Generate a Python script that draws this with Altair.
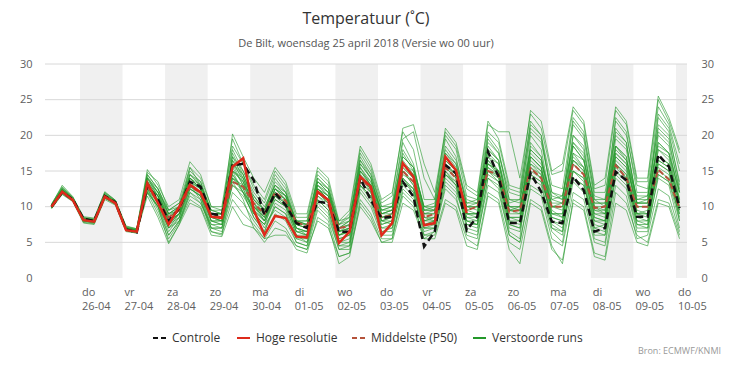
import altair as alt
import pandas as pd

# ---------------- data ----------------
# 6-hourly forecast steps, hours since Wed 25-04-2018 00:00 (first step 08:00)
step_hours = list(range(8, 8 + 6 * 60, 6))

day_names = ["do", "vr", "za", "zo", "ma", "di", "wo", "do", "vr", "za", "zo", "ma", "di", "wo", "do"]
day_dates = ["26-04", "27-04", "28-04", "29-04", "30-04", "01-05", "02-05", "03-05",
             "04-05", "05-05", "06-05", "07-05", "08-05", "09-05", "10-05"]
day_hours = [24 * (i + 1) for i in range(len(day_names))]

y_ticks = [0, 5, 10, 15, 20, 25, 30]

controle = [10.0, 12.0, 11.0, 8.3, 8.0, 11.5, 10.6, 6.8, 6.4,
            13.0, 11.0, 8.0, 9.8,
            13.5, 12.8, 9.0, 8.8,
            15.8, 16.0, 13.7, 8.8,
            11.9, 10.2, 7.7, 7.0,
            10.7, 10.5, 6.5, 6.5,
            14.0, 10.9, 8.4, 8.6,
            13.5, 11.4, 4.4, 6.5,
            15.8, 14.7, 6.7, 8.6,
            17.7, 14.2, 7.7, 7.7,
            14.7, 12.1, 7.9, 7.7,
            14.2, 12.3, 6.5, 7.0,
            14.9, 13.7, 8.6, 8.6,
            17.3, 15.6, 9.8]

hoge_resolutie = [10.0, 12.1, 10.9, 8.1, 7.9, 11.4, 10.5, 6.7, 6.5,
                  13.3, 10.5, 7.5, 10.0,
                  13.1, 12.0, 8.6, 8.4,
                  15.6, 16.8, 9.5, 6.0,
                  8.7, 8.4, 5.8, 5.7,
                  12.1, 10.9, 4.9, 6.5,
                  14.2, 12.8, 6.0, 7.7,
                  16.1, 14.2, 7.4, 7.7,
                  17.0, 15.1, 9.1]

middelste = [10.0, 12.1, 11.0, 8.2, 8.0, 11.4, 10.5, 6.8, 6.5,
             12.8, 10.8, 8.5, 9.5,
             12.8, 12.0, 8.8, 8.5,
             13.5, 12.8, 10.5, 9.0,
             12.0, 10.8, 7.8, 7.3,
             12.0, 11.0, 7.0, 7.3,
             14.0, 12.5, 8.5, 8.8,
             15.0, 13.5, 8.5, 9.0,
             15.5, 14.0, 9.5, 10.0,
             15.0, 14.5, 9.3, 9.5,
             15.4, 14.0, 10.0, 10.0,
             16.0, 14.5, 9.8, 10.0,
             15.8, 14.0, 10.0, 10.0,
             15.2, 13.8, 9.8]

verstoorde_runs = [
    [9.8, 11.8, 10.8, 7.8, 7.6, 11.2, 10.4, 6.8, 6.5,
     12.0, 9.0, 5.5, 7.8, 11.0, 10.0, 6.5, 6.2, 11.0, 9.0, 7.5, 5.5, 8.0, 7.0, 4.5, 4.0,
     9.5, 8.0, 3.0, 3.5, 11.0, 9.0, 5.5, 5.5, 11.5, 10.0, 6.0, 6.0, 11.0, 10.0, 5.5, 4.5,
     12.0, 11.0, 5.0, 4.0, 11.0, 10.0, 4.5, 2.0, 11.0, 10.0, 3.5, 3.0, 12.0, 10.5, 6.0, 5.0,
     11.0, 10.5, 6.0],
    [10.3, 13.0, 11.4, 8.6, 8.4, 12.0, 10.9, 7.3, 6.9,
     15.2, 13.0, 10.0, 11.0, 16.3, 14.5, 10.0, 10.0, 19.5, 16.0, 13.0, 11.0, 15.0, 13.0, 8.5, 8.5,
     15.0, 13.5, 7.5, 9.0, 18.0, 15.5, 10.5, 11.5, 21.0, 21.5, 16.0, 12.0, 20.5, 18.5, 12.5, 11.5,
     21.5, 20.5, 20.5, 14.0, 23.0, 21.0, 14.5, 15.0, 23.5, 21.5, 12.5, 13.0, 23.5, 21.5, 13.5, 13.5,
     25.0, 22.0, 17.5],
    [10.1, 12.4, 11.1, 8.3, 8.1, 11.6, 10.7, 7.0, 6.7,
     14.0, 11.5, 8.0, 9.5, 14.0, 12.5, 8.5, 8.0, 17.0, 14.0, 10.0, 8.0, 12.0, 10.5, 6.5, 6.0,
     12.5, 11.0, 5.5, 6.0, 15.5, 13.0, 8.0, 8.5, 16.0, 14.0, 8.0, 8.5, 17.5, 15.5, 9.0, 9.0,
     18.5, 16.5, 9.0, 9.0, 20.0, 18.0, 10.0, 9.5, 19.0, 17.0, 8.5, 8.0, 18.5, 17.0, 9.0, 9.5,
     20.0, 18.5, 11.0],
    [9.9, 12.0, 10.9, 8.0, 7.9, 11.3, 10.5, 6.7, 6.4,
     13.0, 10.5, 7.0, 8.5, 12.5, 11.5, 7.5, 7.5, 14.0, 12.5, 9.5, 7.0, 10.0, 9.0, 5.5, 5.0,
     11.0, 9.5, 4.5, 5.0, 13.0, 11.0, 6.5, 7.0, 13.0, 11.5, 6.5, 7.0, 14.0, 12.5, 7.5, 7.0,
     15.0, 13.5, 7.0, 6.5, 14.0, 13.0, 7.0, 6.0, 15.0, 13.5, 6.0, 6.0, 14.0, 12.5, 6.5, 6.5,
     14.5, 13.5, 8.0],
    [10.2, 12.6, 11.2, 8.4, 8.2, 11.8, 10.8, 7.1, 6.8,
     14.5, 12.5, 9.0, 10.0, 15.0, 13.5, 9.5, 9.0, 16.0, 13.0, 11.5, 9.5, 14.0, 12.0, 7.5, 7.0,
     14.0, 12.5, 6.5, 7.5, 17.0, 14.5, 9.5, 10.0, 19.0, 16.0, 9.5, 10.0, 19.5, 17.0, 10.0, 9.5,
     20.0, 18.0, 11.0, 10.5, 21.0, 19.5, 12.0, 11.0, 21.5, 19.5, 11.0, 10.0, 21.0, 19.0, 10.5, 11.0,
     22.5, 20.5, 13.0],
    [9.7, 11.7, 10.7, 7.7, 7.5, 11.0, 10.2, 6.5, 6.3,
     12.5, 9.5, 6.0, 8.0, 11.5, 10.5, 7.0, 6.5, 12.0, 10.5, 8.0, 6.0, 9.0, 8.0, 5.0, 4.5,
     10.0, 8.5, 4.0, 4.0, 12.0, 10.0, 6.0, 6.0, 12.0, 10.5, 5.5, 6.5, 12.5, 11.0, 6.5, 6.0,
     13.0, 12.0, 6.0, 5.0, 12.5, 11.5, 5.5, 4.5, 12.0, 11.0, 5.0, 4.5, 13.0, 11.5, 5.5, 6.0,
     12.5, 11.5, 6.5],
    [10.0, 12.2, 11.0, 8.2, 8.0, 11.5, 10.6, 6.9, 6.6,
     13.5, 11.0, 7.5, 9.0, 13.5, 12.0, 8.0, 8.0, 16.5, 13.5, 9.0, 7.5, 11.0, 10.0, 6.0, 5.5,
     12.0, 10.5, 5.0, 5.5, 14.5, 12.0, 7.5, 8.0, 15.0, 13.0, 7.5, 7.5, 16.0, 14.0, 8.0, 8.0,
     17.0, 15.0, 8.0, 8.0, 17.0, 15.5, 8.5, 8.0, 17.5, 15.5, 7.5, 7.0, 17.0, 15.5, 8.0, 8.0,
     18.0, 16.5, 10.0],
    [10.4, 12.8, 11.3, 8.5, 8.3, 12.1, 10.9, 7.2, 6.9,
     14.8, 13.5, 9.5, 10.5, 15.5, 14.0, 10.0, 9.5, 18.0, 15.0, 12.0, 10.0, 13.0, 11.5, 8.0, 7.5,
     13.5, 12.0, 7.0, 8.0, 16.0, 14.0, 9.0, 9.5, 17.5, 15.0, 9.0, 9.0, 18.5, 16.5, 11.0, 10.5,
     19.0, 17.5, 12.0, 11.5, 22.0, 20.0, 11.0, 10.5, 20.0, 18.5, 10.0, 9.5, 22.5, 20.5, 12.0, 12.0,
     21.0, 19.5, 12.0],
    [9.8, 11.9, 10.8, 7.9, 7.7, 11.2, 10.4, 6.8, 6.5,
     12.5, 10.0, 5.0, 7.5, 12.0, 11.0, 6.5, 6.0, 13.5, 11.0, 7.0, 5.0, 7.0, 6.5, 4.0, 3.5,
     8.5, 7.5, 2.0, 3.0, 10.5, 8.5, 5.0, 5.0, 10.5, 9.5, 5.5, 5.5, 10.5, 9.5, 4.5, 4.0,
     11.5, 10.5, 4.0, 2.0, 10.5, 9.5, 4.0, 2.5, 10.5, 9.5, 3.0, 2.5, 10.5, 9.5, 5.0, 4.5,
     10.5, 10.0, 5.5],
    [10.1, 12.3, 11.1, 8.2, 8.0, 11.6, 10.6, 6.9, 6.6,
     13.8, 12.0, 8.5, 9.5, 14.5, 13.0, 9.0, 8.5, 20.2, 17.0, 14.0, 12.0, 15.5, 13.5, 9.0, 9.0,
     15.5, 14.0, 8.0, 9.5, 18.5, 16.0, 11.0, 12.0, 20.5, 18.0, 11.0, 11.0, 21.0, 19.0, 13.0, 12.0,
     22.0, 19.5, 13.0, 12.5, 23.5, 22.0, 15.0, 16.0, 24.0, 22.0, 13.0, 14.0, 24.0, 22.0, 14.0, 14.0,
     25.5, 22.5, 18.0],
    [10.0, 12.1, 10.9, 8.1, 7.9, 11.4, 10.5, 6.8, 6.5,
     13.0, 11.5, 8.0, 9.0, 13.0, 12.0, 8.5, 8.5, 15.0, 12.0, 10.0, 8.5, 12.5, 11.0, 7.0, 6.5,
     13.0, 11.5, 6.0, 6.5, 14.0, 12.5, 8.5, 9.0, 14.0, 12.0, 7.0, 7.5, 15.0, 13.0, 7.0, 6.5,
     14.0, 13.0, 6.5, 5.5, 19.0, 17.0, 9.5, 8.5, 20.0, 18.0, 10.0, 9.0, 16.0, 14.5, 7.5, 7.0,
     16.0, 15.0, 9.0],
    [10.2, 12.5, 11.2, 8.3, 8.1, 11.7, 10.7, 7.0, 6.7,
     14.2, 12.0, 9.0, 10.0, 14.0, 12.5, 8.0, 7.5, 17.5, 14.5, 11.0, 9.0, 13.5, 12.0, 7.5, 7.0,
     14.5, 13.0, 7.0, 7.5, 16.5, 14.0, 9.0, 9.0, 18.0, 15.5, 10.0, 9.5, 17.0, 15.0, 9.5, 9.0,
     16.0, 15.0, 8.5, 8.0, 16.0, 14.5, 8.0, 7.5, 18.5, 16.5, 9.0, 8.5, 19.5, 18.0, 10.0, 10.0,
     19.0, 17.5, 10.5],
    [9.9, 12.0, 10.9, 8.1, 7.9, 11.4, 10.5, 6.8, 6.5,
     12.0, 10.0, 6.5, 8.5, 13.0, 11.0, 7.0, 7.0, 14.5, 12.0, 8.5, 6.5, 10.5, 9.5, 5.5, 5.5,
     11.5, 10.0, 5.0, 5.0, 13.5, 12.0, 7.0, 7.0, 14.5, 13.5, 8.5, 8.0, 15.5, 14.0, 8.5, 8.5,
     17.5, 16.0, 9.5, 9.5, 18.0, 16.5, 9.0, 9.0, 16.5, 15.0, 8.0, 7.5, 16.5, 15.0, 9.0, 8.5,
     17.0, 16.0, 9.5],
    [10.0, 12.0, 10.8, 8.0, 7.8, 11.2, 10.3, 6.6, 6.3,
     11.5, 8.5, 4.8, 7.5, 10.5, 9.8, 6.0, 5.8, 10.0, 7.5, 7.0, 5.5, 6.0, 6.0, 4.5, 4.0,
     8.0, 7.0, 3.0, 3.5, 10.0, 8.0, 5.0, 5.5, 12.5, 11.0, 7.0, 7.0, 13.5, 12.0, 8.0, 7.5,
     16.5, 14.5, 10.0, 10.0, 17.5, 16.0, 11.5, 11.0, 22.0, 20.0, 12.0, 12.0, 20.0, 18.5, 11.0, 11.0,
     23.0, 21.0, 15.0],
    [10.1, 12.3, 11.0, 8.2, 8.0, 11.5, 10.6, 6.9, 6.6,
     13.2, 11.0, 8.0, 9.0, 14.5, 13.5, 9.0, 9.0, 16.0, 14.5, 10.5, 8.5, 11.5, 10.5, 6.5, 6.5,
     12.5, 11.0, 6.0, 6.5, 15.0, 13.5, 8.5, 8.5, 16.5, 14.5, 8.5, 8.5, 16.5, 15.0, 10.0, 10.0,
     18.0, 16.5, 10.0, 9.5, 15.5, 14.5, 8.0, 7.0, 14.0, 13.0, 7.0, 7.5, 17.5, 16.0, 9.5, 9.0,
     20.5, 19.0, 12.5],
    [9.8, 11.9, 10.9, 8.0, 7.8, 11.3, 10.4, 6.7, 6.4,
     12.8, 10.5, 7.0, 8.0, 12.0, 10.5, 7.5, 7.0, 13.0, 11.5, 9.0, 7.5, 9.5, 8.5, 6.0, 5.0,
     10.5, 9.0, 4.0, 4.5, 12.5, 10.5, 6.5, 6.5, 13.5, 12.0, 6.0, 6.5, 13.0, 11.5, 6.0, 5.5,
     14.0, 12.5, 6.0, 5.0, 13.0, 12.0, 6.5, 5.0, 13.5, 12.0, 5.5, 5.0, 14.5, 13.0, 7.0, 7.0,
     14.0, 13.0, 7.0],
    [10.2, 12.4, 11.1, 8.3, 8.1, 11.6, 10.6, 7.0, 6.7,
     14.0, 12.5, 9.0, 9.5, 15.5, 13.0, 9.5, 9.5, 18.5, 16.0, 12.5, 10.5, 14.5, 12.5, 8.0, 8.0,
     14.0, 12.5, 7.0, 8.0, 17.5, 15.0, 10.0, 10.5, 19.5, 20.5, 14.0, 11.0, 20.0, 18.0, 11.5, 11.0,
     20.5, 19.0, 12.5, 12.0, 21.5, 20.0, 13.0, 12.5, 22.5, 20.5, 11.5, 11.0, 22.0, 20.0, 13.0, 12.5,
     24.0, 21.5, 16.0],
    [10.0, 12.2, 11.0, 8.1, 7.9, 11.4, 10.5, 6.8, 6.5,
     13.5, 11.5, 7.5, 8.5, 13.5, 12.5, 8.5, 8.0, 15.5, 13.0, 9.5, 8.0, 12.0, 11.0, 7.0, 6.0,
     13.5, 12.0, 6.5, 7.0, 15.0, 13.0, 8.0, 8.0, 15.5, 14.0, 8.0, 8.0, 14.5, 13.0, 7.5, 7.5,
     15.5, 14.0, 7.5, 7.0, 16.5, 15.0, 7.5, 6.5, 16.0, 14.5, 7.0, 6.5, 15.5, 14.0, 8.0, 7.5,
     15.5, 14.5, 8.5],
    [10.3, 12.7, 11.3, 8.4, 8.2, 11.9, 10.8, 7.1, 6.8,
     14.5, 12.5, 9.5, 10.5, 14.0, 13.0, 9.0, 9.0, 17.0, 15.0, 11.5, 9.5, 13.0, 11.5, 7.5, 7.5,
     13.0, 12.0, 7.5, 8.5, 15.5, 13.5, 9.5, 10.0, 16.0, 15.0, 10.0, 10.5, 18.0, 16.0, 10.5, 10.5,
     19.5, 17.5, 11.0, 11.0, 20.5, 19.0, 12.0, 11.5, 19.0, 17.5, 10.5, 10.5, 18.0, 16.5, 11.0, 11.5,
     18.5, 17.5, 12.0],
    [9.9, 12.1, 10.9, 8.0, 7.8, 11.3, 10.5, 6.8, 6.5,
     12.2, 10.0, 6.0, 8.0, 12.5, 11.5, 7.0, 7.0, 14.0, 12.0, 8.5, 6.5, 10.0, 9.0, 5.0, 4.5,
     11.0, 9.5, 4.5, 4.5, 13.0, 11.5, 7.0, 7.5, 14.0, 12.5, 7.0, 7.0, 15.0, 13.5, 8.0, 7.5,
     15.0, 14.0, 7.5, 7.0, 14.5, 13.5, 7.0, 6.5, 15.0, 14.0, 6.5, 6.0, 15.0, 13.5, 7.5, 7.5,
     16.5, 15.5, 8.0],
    [10.1, 12.3, 11.1, 8.2, 8.0, 11.5, 10.6, 6.9, 6.6,
     13.0, 11.0, 8.5, 9.5, 14.0, 12.5, 8.5, 8.5, 16.0, 14.0, 10.0, 9.0, 12.5, 11.5, 7.0, 6.5,
     13.0, 11.5, 6.0, 7.0, 16.0, 14.0, 9.0, 9.5, 17.0, 15.5, 9.5, 9.5, 16.5, 15.0, 9.0, 8.5,
     17.0, 16.0, 9.5, 9.0, 18.5, 17.0, 10.0, 10.0, 17.5, 16.5, 9.5, 9.0, 20.5, 19.0, 10.5, 10.5,
     21.5, 20.0, 13.5],
    [10.0, 12.3, 11.0, 8.1, 7.9, 11.5, 10.5, 6.8, 6.5,
     13.5, 12.0, 8.0, 9.0, 13.0, 11.5, 8.0, 7.5, 15.0, 13.5, 10.5, 8.0, 11.5, 10.0, 6.0, 6.0,
     12.0, 10.5, 5.5, 6.0, 14.0, 12.5, 8.0, 7.5, 15.0, 13.0, 7.5, 8.0, 16.0, 14.5, 9.0, 9.0,
     16.0, 14.5, 8.5, 8.5, 17.0, 15.5, 9.0, 8.5, 16.5, 15.5, 8.5, 8.0, 18.5, 17.0, 9.0, 9.0,
     18.0, 17.0, 10.5],
    [10.0, 12.2, 11.0, 8.2, 8.0, 11.4, 10.5, 6.8, 6.5,
     12.8, 10.8, 8.8, 9.5, 12.8, 12.0, 9.0, 8.5, 14.0, 13.0, 10.5, 9.0, 12.0, 11.0, 8.0, 7.5,
     12.0, 11.0, 7.0, 7.5, 14.0, 12.5, 8.5, 9.0, 15.0, 13.5, 9.0, 9.0, 15.5, 14.0, 9.5, 10.0,
     15.0, 14.5, 9.5, 9.5, 15.5, 14.0, 10.0, 10.0, 16.0, 14.5, 10.0, 10.0, 16.0, 14.0, 10.0, 10.0,
     15.0, 14.0, 10.0],
    [10.1, 12.4, 11.1, 8.3, 8.1, 11.6, 10.6, 6.9, 6.6,
     13.5, 11.5, 8.5, 9.5, 13.5, 12.5, 9.0, 9.0, 15.0, 13.5, 10.0, 8.5, 12.5, 11.0, 7.5, 7.0,
     12.5, 11.5, 6.5, 7.0, 14.5, 13.0, 9.0, 9.5, 15.5, 14.0, 9.0, 9.5, 16.0, 14.5, 10.0, 10.5,
     16.5, 15.0, 10.0, 10.0, 16.0, 15.0, 10.5, 10.5, 16.5, 15.0, 10.5, 10.5, 17.0, 15.5, 10.5, 10.5,
     17.0, 16.0, 11.0],
    [9.9, 12.0, 10.9, 8.1, 7.9, 11.4, 10.5, 6.8, 6.5,
     12.5, 10.5, 7.5, 9.0, 12.5, 11.5, 8.5, 8.0, 13.0, 12.0, 9.5, 8.0, 11.0, 10.0, 7.0, 6.5,
     11.5, 10.5, 6.5, 7.0, 13.5, 12.0, 8.0, 8.5, 14.0, 12.5, 8.0, 8.5, 14.5, 13.0, 9.0, 9.0,
     14.5, 13.5, 8.5, 8.5, 14.5, 13.5, 9.0, 9.0, 15.0, 14.0, 9.0, 9.0, 15.0, 13.5, 9.0, 9.0,
     14.5, 13.5, 9.0],
    [10.2, 12.5, 11.1, 8.3, 8.1, 11.6, 10.7, 7.0, 6.7,
     14.0, 12.0, 9.5, 10.0, 14.5, 13.0, 9.5, 9.0, 16.5, 14.5, 11.0, 9.5, 13.0, 12.0, 8.0, 8.0,
     13.5, 12.5, 8.0, 8.5, 16.5, 14.5, 10.0, 10.0, 17.0, 15.5, 10.0, 10.0, 17.5, 16.0, 10.5, 11.0,
     18.0, 16.5, 10.5, 11.0, 18.0, 16.5, 11.0, 11.5, 18.5, 16.5, 11.0, 11.0, 18.5, 16.5, 11.5, 11.5,
     19.0, 17.5, 12.0],
    [10.0, 12.1, 11.0, 8.2, 8.0, 11.5, 10.5, 6.8, 6.5,
     13.0, 11.5, 9.0, 10.0, 13.0, 12.0, 9.0, 9.0, 15.0, 14.0, 11.0, 9.5, 12.5, 11.5, 8.0, 7.5,
     12.5, 11.5, 7.5, 8.0, 15.0, 13.0, 9.5, 9.5, 16.0, 14.5, 9.5, 9.5, 16.0, 14.5, 10.0, 10.0,
     16.0, 15.0, 9.5, 10.0, 17.0, 15.5, 10.0, 10.5, 17.0, 15.5, 9.5, 9.5, 17.5, 16.0, 10.5, 10.5,
     16.5, 15.5, 10.5],
    [9.9, 12.2, 11.0, 8.1, 7.9, 11.4, 10.5, 6.8, 6.5,
     12.0, 10.0, 7.0, 9.0, 14.0, 12.5, 8.0, 8.0, 14.5, 12.5, 9.0, 7.5, 11.5, 10.5, 6.5, 6.0,
     12.5, 11.0, 6.0, 6.5, 13.0, 11.5, 7.5, 8.0, 13.5, 12.5, 7.5, 8.0, 14.5, 13.5, 8.5, 8.0,
     15.5, 14.5, 8.0, 7.5, 15.0, 14.0, 8.5, 8.0, 14.0, 13.0, 8.0, 8.0, 16.0, 14.5, 8.5, 8.0,
     16.0, 15.0, 9.5],
]

title_text = "Temperatuur (˚C)"
subtitle_text = "De Bilt, woensdag 25 april 2018 (Versie wo 00 uur)"
credit_text = "Bron: ECMWF/KNMI"
legend_labels = ["Controle", "Hoge resolutie", "Middelste (P50)", "Verstoorde runs"]

# ---------------- tables ----------------
ens_rows = []
for m, run in enumerate(verstoorde_runs):
    for h, v in zip(step_hours, run):
        ens_rows.append({"member": m, "h": h, "v": v})
ens_df = pd.DataFrame(ens_rows)
ctl_df = pd.DataFrame({"h": step_hours[:len(controle)], "v": controle})
hr_df = pd.DataFrame({"h": step_hours[:len(hoge_resolutie)], "v": hoge_resolutie})
med_df = pd.DataFrame({"h": step_hours[:len(middelste)], "v": middelste})
days_df = pd.DataFrame({"h": day_hours, "wd": day_names, "date": day_dates})
bands_df = pd.DataFrame({"h0": day_hours[0::2], "h1": day_hours[1::2] + [day_hours[-1] + 24]})

# ---------------- styling ----------------
W, H = 642, 214
FONT = "Open Sans"
AXIS_TXT = "#606060"
x_scale = alt.Scale(domain=[4.3, 366.2], nice=False, zero=False)
y_scale = alt.Scale(domain=[0, 30], nice=False, zero=False)
one = pd.DataFrame({"a": [0]})

bands = alt.Chart(bands_df).mark_rect(color="#f0f0f0", clip=True).encode(
    x=alt.X("h0:Q", scale=x_scale,
            axis=alt.Axis(values=day_hours, labels=False, ticks=True, tickSize=10,
                          tickColor="#C0D0E0", domainColor="#C0D0E0", grid=False, title=None)),
    x2="h1:Q",
    y=alt.value(0), y2=alt.value(H),
)

grid = alt.Chart(pd.DataFrame({"v": y_ticks[1:]})).mark_rule(color="#d8d8d8", strokeWidth=1).encode(
    y=alt.Y("v:Q", scale=y_scale,
            axis=alt.Axis(orient="left", values=y_ticks, grid=False, domain=False, ticks=False,
                          labelPadding=13, title=None, labelColor=AXIS_TXT, labelFontSize=11,
                          labelFont=FONT)),
    x=alt.value(0), x2=alt.value(W),
)

right_axis = alt.Chart(pd.DataFrame({"v": y_ticks})).mark_rule(opacity=0).encode(
    y=alt.Y("v:Q", scale=y_scale,
            axis=alt.Axis(orient="right", values=y_ticks, grid=False, domain=False, ticks=False,
                          labelPadding=14, title=None, labelColor=AXIS_TXT, labelFontSize=11,
                          labelFont=FONT)),
    x=alt.value(0), x2=alt.value(W),
)

def line_layer(df, color, width, dash=None, opacity=1.0, detail=None):
    kw = dict(color=color, strokeWidth=width, opacity=opacity, clip=True)
    if dash:
        kw["strokeDash"] = dash
    enc = dict(x=alt.X("h:Q", scale=x_scale, axis=None),
               y=alt.Y("v:Q", scale=y_scale, axis=None))
    if detail:
        enc["detail"] = detail
    return alt.Chart(df).mark_line(**kw).encode(**enc)

ens = line_layer(ens_df, "#23982a", 1, opacity=0.6, detail="member:N")
med = line_layer(med_df, "#b5523a", 2, dash=[6, 3])
ctl = line_layer(ctl_df, "#111111", 2.5, dash=[7, 4])
hr = line_layer(hr_df, "#dd2a1b", 2.5)

lab1 = alt.Chart(days_df).mark_text(align="left", baseline="middle", dx=2, font=FONT,
                                    fontSize=11, color=AXIS_TXT).encode(
    x=alt.X("h:Q", scale=x_scale, axis=None), y=alt.value(H + 15), text="wd:N")
lab2 = alt.Chart(days_df).mark_text(align="left", baseline="middle", dx=2, font=FONT,
                                    fontSize=11, color=AXIS_TXT).encode(
    x=alt.X("h:Q", scale=x_scale, axis=None), y=alt.value(H + 29), text="date:N")

def text_layer(txt, x, y, size, color, align="center", weight="normal"):
    return alt.Chart(pd.DataFrame({"t": [txt]})).mark_text(
        align=align, baseline="middle", font=FONT, fontSize=size, color=color,
        fontWeight=weight).encode(x=alt.value(x), y=alt.value(y), text="t:N")

title = text_layer(title_text, W / 2, -45, 16, "#333333")
subtitle = text_layer(subtitle_text, W / 2, -20, 11, "#555555")
credit = text_layer(credit_text, 676, 287, 9, "#999999", align="right")

legend_styles = [("#111111", [5, 3]), ("#dd2a1b", None), ("#b5523a", [5, 3]), ("#23982a", None)]
legend_x = [108, 192, 307, 428]
LEG_Y = 274
legend_layers = []
for lbl, (col, dash), lx in zip(legend_labels, legend_styles, legend_x):
    kw = dict(color=col, strokeWidth=2)
    if dash:
        kw["strokeDash"] = dash
    legend_layers.append(alt.Chart(one).mark_rule(**kw).encode(
        x=alt.value(lx), x2=alt.value(lx + 13), y=alt.value(LEG_Y)))
    legend_layers.append(text_layer(lbl, lx + 19, LEG_Y, 12, "#333333", align="left"))

chart = alt.layer(
    bands, grid, right_axis, ens, med, ctl, hr, lab1, lab2, title, subtitle, credit, *legend_layers
).resolve_axis(y="independent").properties(
    width=W, height=H,
    padding={"left": 37, "top": 56, "right": 37, "bottom": 80},
    autosize=alt.AutoSizeParams(type="none"),
).configure_view(stroke=None)

chart.save("out.html", embed_options={"renderer": "svg", "actions": False})
